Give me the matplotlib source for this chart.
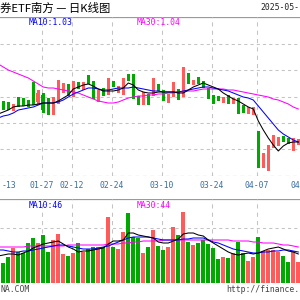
import matplotlib
matplotlib.use("Agg")
import matplotlib.pyplot as plt
import matplotlib.transforms as mtransforms
import numpy as np

# ---------------- data (candle index -1 .. 59, 2025-01-14 .. 2025-04-18) ----------------
opens = [1.045, 1.064, 1.063, 1.058, 1.066, 1.065, 1.065, 1.072, 1.065, 1.072,
         1.067, 1.054, 1.065, 1.078, 1.080, 1.072, 1.083, 1.079, 1.091, 1.084,
         1.067, 1.077, 1.074, 1.085, 1.076, 1.074, 1.091, 1.086, 1.070, 1.065,
         1.072, 1.074, 1.082, 1.075, 1.068, 1.072, 1.075, 1.072, 1.093, 1.084,
         1.088, 1.085, 1.077, 1.070, 1.070, 1.066, 1.070, 1.065, 1.068, 1.060,
         1.055, 1.054, 1.035, 1.001, 0.999, 1.024, 1.024, 1.030, 1.028, 1.024,
         1.024]
closes = [1.055, 1.061, 1.060, 1.061, 1.064, 1.064, 1.063, 1.064, 1.074, 1.057,
          1.055, 1.068, 1.079, 1.082, 1.074, 1.084, 1.081, 1.083, 1.085, 1.070,
          1.075, 1.075, 1.086, 1.083, 1.079, 1.089, 1.089, 1.070, 1.065, 1.074,
          1.064, 1.085, 1.078, 1.070, 1.072, 1.076, 1.073, 1.092, 1.085, 1.086,
          1.086, 1.081, 1.070, 1.068, 1.068, 1.069, 1.067, 1.068, 1.057, 1.056,
          1.059, 1.059, 1.001, 1.010, 1.019, 1.028, 1.028, 1.027, 1.025, 1.027,
          1.027]
highs = [1.057, 1.066, 1.065, 1.063, 1.070, 1.069, 1.067, 1.085, 1.077, 1.074,
         1.069, 1.070, 1.087, 1.084, 1.083, 1.086, 1.085, 1.085, 1.092, 1.086,
         1.077, 1.079, 1.089, 1.086, 1.081, 1.089, 1.093, 1.093, 1.071, 1.075,
         1.073, 1.089, 1.083, 1.077, 1.073, 1.085, 1.078, 1.100, 1.094, 1.087,
         1.090, 1.086, 1.079, 1.072, 1.071, 1.070, 1.072, 1.069, 1.069, 1.062,
         1.060, 1.060, 1.036, 1.014, 1.022, 1.032, 1.030, 1.031, 1.029, 1.029,
         1.028]
lows = [1.043, 1.058, 1.058, 1.057, 1.061, 1.062, 1.061, 1.063, 1.063, 1.055,
        1.053, 1.053, 1.064, 1.075, 1.072, 1.071, 1.079, 1.078, 1.084, 1.069,
        1.066, 1.072, 1.073, 1.081, 1.075, 1.073, 1.087, 1.069, 1.063, 1.063,
        1.063, 1.072, 1.077, 1.067, 1.065, 1.071, 1.068, 1.071, 1.084, 1.083,
        1.084, 1.080, 1.069, 1.064, 1.067, 1.065, 1.064, 1.064, 1.054, 1.055,
        1.054, 1.053, 1.000, 1.000, 0.997, 1.020, 1.022, 1.026, 1.024, 1.017,
        1.023]
ma5 = [1.053, 1.055, 1.057, 1.060, 1.061, 1.061, 1.062, 1.062, 1.063, 1.064,
       1.064, 1.064, 1.066, 1.069, 1.072, 1.078, 1.080, 1.082, 1.083, 1.081,
       1.078, 1.076, 1.076, 1.076, 1.077, 1.079, 1.084, 1.082, 1.077, 1.075,
       1.074, 1.074, 1.075, 1.075, 1.075, 1.075, 1.074, 1.074, 1.077, 1.080,
       1.082, 1.084, 1.082, 1.080, 1.078, 1.074, 1.071, 1.068, 1.066, 1.063,
       1.060, 1.058, 1.046, 1.037, 1.029, 1.022, 1.016, 1.021, 1.024, 1.025,
       1.025]
ma10 = [1.049, 1.051, 1.052, 1.054, 1.057, 1.058, 1.059, 1.060, 1.062, 1.064,
        1.064, 1.064, 1.065, 1.067, 1.070, 1.073, 1.075, 1.077, 1.079, 1.079,
        1.078, 1.077, 1.077, 1.078, 1.079, 1.079, 1.079, 1.080, 1.079, 1.078,
        1.077, 1.076, 1.076, 1.075, 1.075, 1.075, 1.075, 1.076, 1.077, 1.078,
        1.079, 1.080, 1.080, 1.079, 1.078, 1.077, 1.076, 1.074, 1.072, 1.070,
        1.069, 1.067, 1.061, 1.055, 1.049, 1.043, 1.037, 1.033, 1.030, 1.027,
        1.025]
ma30 = [1.103, 1.100, 1.097, 1.095, 1.093, 1.091, 1.089, 1.086, 1.083, 1.080,
        1.079, 1.079, 1.078, 1.077, 1.076, 1.075, 1.074, 1.072, 1.070, 1.068,
        1.066, 1.065, 1.064, 1.064, 1.065, 1.067, 1.069, 1.070, 1.071, 1.071,
        1.072, 1.072, 1.073, 1.073, 1.074, 1.074, 1.075, 1.075, 1.076, 1.076,
        1.077, 1.078, 1.078, 1.078, 1.078, 1.078, 1.077, 1.077, 1.076, 1.075,
        1.074, 1.073, 1.072, 1.071, 1.070, 1.068, 1.067, 1.065, 1.063, 1.060,
        1.058]
volumes = [25, 20, 26, 35, 31, 30, 40, 45, 40, 48,
           31, 43, 49, 29, 27, 30, 40, 31, 34, 36,
           36, 36, 66, 36, 34, 51, 70, 46, 45, 30,
           36, 53, 37, 33, 36, 56, 48, 71, 41, 38,
           40, 43, 39, 35, 24, 26, 25, 30, 41, 30,
           22, 26, 46, 32, 33, 33, 31, 27, 21, 32,
           21]
vol_ma5 = [27, 28, 29, 29, 28, 30, 32, 35, 37, 39,
           40, 41, 42, 39, 36, 34, 31, 32, 32, 33,
           34, 35, 39, 42, 42, 43, 50, 50, 48, 47,
           46, 45, 41, 40, 40, 42, 44, 49, 50, 50,
           48, 47, 43, 40, 37, 34, 31, 29, 28, 29,
           30, 29, 30, 32, 34, 35, 36, 34, 32, 31,
           29]
vol_ma10 = [33, 33, 32, 31, 31, 32, 32, 33, 34, 35,
            36, 37, 38, 38, 37, 36, 35, 34, 34, 34,
            35, 36, 37, 39, 41, 43, 45, 46, 46, 46,
            46, 45, 44, 43, 43, 43, 43, 44, 44, 45,
            45, 45, 43, 41, 40, 38, 36, 34, 33, 32,
            31, 30, 30, 31, 31, 32, 32, 33, 33, 32,
            31]
vol_ma30 = [36, 36, 36, 36, 36, 36, 37, 37, 37, 37,
            37, 37, 37, 37, 38, 38, 38, 38, 38, 38,
            38, 38, 39, 39, 39, 40, 40, 41, 41, 42,
            42, 42, 42, 43, 43, 43, 43, 43, 43, 43,
            43, 43, 43, 43, 43, 43, 43, 42, 42, 42,
            42, 41, 41, 40, 40, 40, 39, 38, 38, 37,
            36]
# date labels as they show inside the cropped frame
tick_labels = ["-13", "01-27", "02-12", "02-24", "03-10", "03-24", "04-07", "04"]
tick_index = [1.45, 8, 14, 22, 32, 42, 51, 58.65]
grid_index = [8, 14, 22, 32, 42, 51, 60]

RED = "#ff5b5b"
GREEN = "#00a800"
GRID = "#c4c4c4"
BORDER = "#9a9a9a"

x = np.arange(-1, len(opens) - 1)
o = np.array(opens); c = np.array(closes)
colors = [RED if cc >= oo else GREEN for oo, cc in zip(o, c)]

W, H = 300, 300
fig = plt.figure(figsize=(3, 3), dpi=100)
fig.patch.set_facecolor("white")

def fx(px):
    return px / W

def fy(py):
    return 1 - py / H

XL = (-0.66, 59.34)

# ---------------- price panel ----------------
ax = fig.add_axes([0, fy(176), 1, (176 - 17) / H])
ax.set_xlim(*XL)
ax.set_ylim(0.991, 1.150)
ax.axis("off")
for v in np.linspace(0.991, 1.150, 7)[1:-1]:
    ax.axhline(v, color=GRID, lw=0.75, ls=(0, (3, 3)), zorder=0)
ax.axhline(1.150, color=BORDER, lw=0.9, zorder=0)
ax.axhline(0.991, color=GRID, lw=0.9, ls=(0, (3, 3)), zorder=0)
for g in grid_index:
    ax.axvline(g - 0.33, color=GRID, lw=0.75, ls=(0, (4, 4)), zorder=0)

ax.vlines(x, lows, highs, colors=colors, lw=0.9, antialiased=False, zorder=2)
body_h = np.maximum(np.abs(c - o), 0.0012)
ax.bar(x, body_h, bottom=np.minimum(o, c), width=0.72, color=colors,
       antialiased=False, zorder=3)
ax.plot(x, ma30, color="#ff00ff", lw=0.75, zorder=4)
ax.plot(x, ma10, color="#0000ff", lw=0.75, zorder=4)
ax.plot(x, ma5, color="#000000", lw=0.75, zorder=4)

# ---------------- volume panel ----------------
av = fig.add_axes([0, fy(283), 1, (283 - 199) / H])
av.set_xlim(*XL)
av.set_ylim(0, 84)
av.axis("off")
av.axhline(84, color=BORDER, lw=0.9, zorder=0)
av.axhline(55, color=GRID, lw=0.75, ls=(0, (3, 3)), zorder=0)
for g in grid_index:
    av.axvline(g - 0.33, color=GRID, lw=0.75, ls=(0, (4, 4)), zorder=0)
av.bar(x, volumes, width=0.8, color=colors, antialiased=False, zorder=2)
av.plot(x, vol_ma30, color="#ff00ff", lw=0.75, zorder=4)
av.plot(x, vol_ma10, color="#0000ff", lw=0.75, zorder=4)
av.plot(x, vol_ma5, color="#000000", lw=0.75, zorder=4)

# ---------------- texts ----------------
mono = "DejaVu Sans Mono"
fs = 5.9
fig.text(fx(0.5), fy(8), "券ETF南方 — 日K线图", family=["Noto Sans CJK SC", "DejaVu Sans"],
         fontsize=8.2, va="center", ha="left", color="#000000")
fig.text(fx(299.5), fy(8), "2025-05-", family=mono, fontsize=fs, va="center", ha="right", color="#222222")
fig.text(fx(29), fy(22.5), "MA10:1.03", family=mono, fontsize=fs, va="center", ha="left", color="#0000ff")
fig.text(fx(137), fy(22.5), "MA30:1.04", family=mono, fontsize=fs, va="center", ha="left", color="#ff00ff")
fig.text(fx(29), fy(205), "MA10:46", family=mono, fontsize=fs, va="center", ha="left", color="#0000ff")
fig.text(fx(137), fy(205), "MA30:44", family=mono, fontsize=fs, va="center", ha="left", color="#ff00ff")

tr = mtransforms.blended_transform_factory(ax.transData, fig.transFigure)
for lab, ti in zip(tick_labels, tick_index):
    fig.text(ti - 0.33, fy(185), lab, transform=tr, family=mono, fontsize=fs,
             va="center", ha="center", color="#3a6ea5")

fig.text(fx(0.5), fy(289), "NA.COM", family=mono, fontsize=fs, va="center", ha="left", color="#444444")
fig.text(fx(299.5), fy(289), "http://finance.", family=mono, fontsize=fs,
         va="center", ha="right", color="#444444")

fig.savefig("out.png", dpi=100, facecolor="white")
